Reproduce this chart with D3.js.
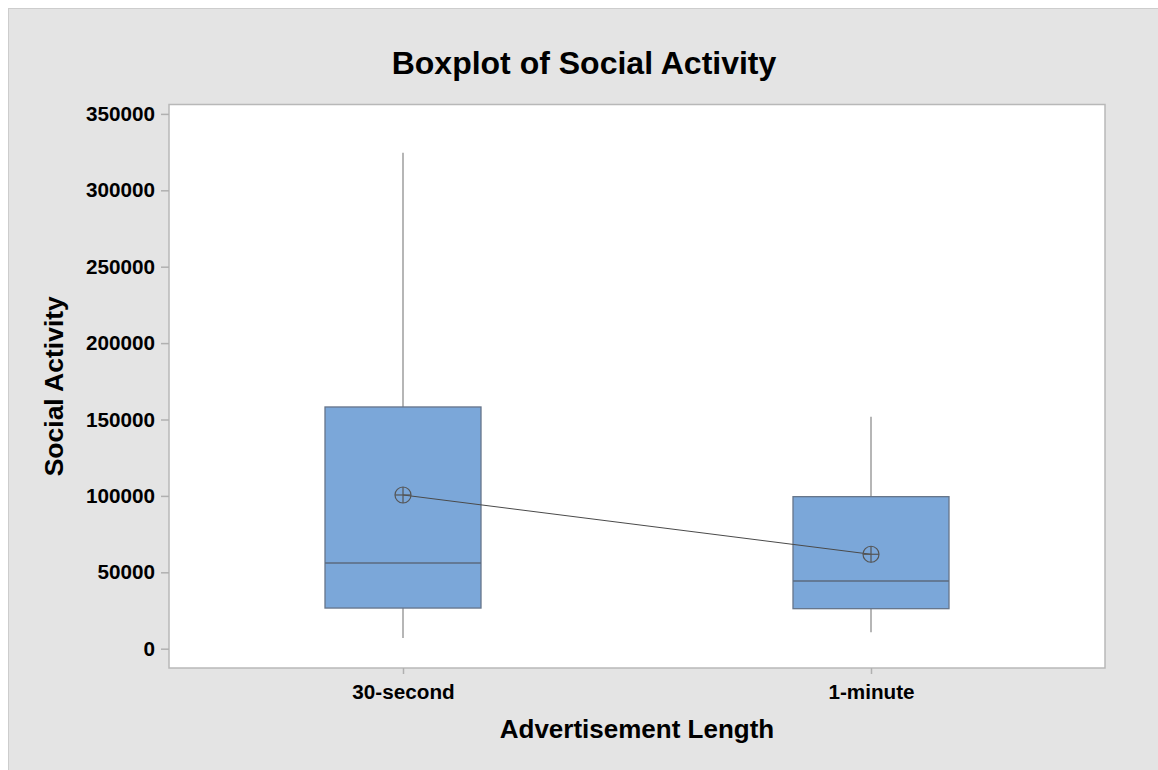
<!DOCTYPE html>
<html>
<head>
<meta charset="utf-8">
<title>Boxplot of Social Activity</title>
<script src="https://cdn.jsdelivr.net/npm/d3@7"></script>
<style>
  body { margin: 0; background: #ffffff; overflow: hidden; }
  svg { display: block; }
  text { font-family: "Liberation Sans", Arial, sans-serif; font-weight: bold; fill: #000; }
</style>
</head>
<body>
<script>
// categories and box statistics
var categories = ["30-second", "1-minute"];
var whiskerLow = [7000, 10700];
var q1 = [26600, 26200];
var medians = [56100, 44300];
var q3 = [158200, 99500];
var whiskerHigh = [324500, 151800];
var means = [100600, 61800];
var yTicks = [0, 50000, 100000, 150000, 200000, 250000, 300000, 350000];

var w = 1158, h = 770;
var plot = {left: 169, top: 104.5, right: 1105, bottom: 668};

var svg = d3.select("body").append("svg")
    .attr("width", w)
    .attr("height", h);

// grey figure background with light frame on top/left
svg.append("rect").attr("x", 0).attr("y", 0).attr("width", w).attr("height", h).attr("fill", "#ffffff");
svg.append("rect").attr("x", 8).attr("y", 8).attr("width", w - 8).attr("height", h - 8)
    .attr("fill", "#e4e4e4");
svg.append("line").attr("x1", 8).attr("x2", w).attr("y1", 8.5).attr("y2", 8.5).attr("stroke", "#cdcdcd");
svg.append("line").attr("x1", 8.5).attr("x2", 8.5).attr("y1", 8).attr("y2", h).attr("stroke", "#cdcdcd");

// plot area
svg.append("rect")
    .attr("x", plot.left).attr("y", plot.top)
    .attr("width", plot.right - plot.left).attr("height", plot.bottom - plot.top)
    .attr("fill", "#ffffff").attr("stroke", "#b8b8b8").attr("stroke-width", 1.5);

var x = d3.scalePoint().domain(categories).range([plot.left, plot.right]).padding(0.5);
var y = d3.scaleLinear().domain([0, 50000]).range([648.7, 572.3]);

// axes
var yAxis = svg.append("g").attr("transform", "translate(" + plot.left + ",0)")
    .call(d3.axisLeft(y).tickValues(yTicks).tickFormat(d3.format("d")).tickSize(8).tickPadding(6));
var xAxis = svg.append("g").attr("transform", "translate(0," + plot.bottom + ")")
    .call(d3.axisBottom(x).tickSize(6).tickPadding(10));
[yAxis, xAxis].forEach(function(a) {
  a.select(".domain").remove();
  a.selectAll(".tick line").attr("stroke", "#b0b0b0").attr("stroke-width", 1.5);
  a.selectAll(".tick text").attr("font-size", "20.7px").attr("font-family", "Liberation Sans, Arial, sans-serif")
    .attr("font-weight", "bold").attr("fill", "#000");
});

// boxes
var halfW = 78;
var boxes = svg.append("g");
categories.forEach(function(c, i) {
  var cx = x(c);
  // whiskers
  boxes.append("line").attr("x1", cx).attr("x2", cx)
      .attr("y1", y(whiskerHigh[i])).attr("y2", y(q3[i]))
      .attr("stroke", "#8f8f8f").attr("stroke-width", 1.3);
  boxes.append("line").attr("x1", cx).attr("x2", cx)
      .attr("y1", y(q1[i])).attr("y2", y(whiskerLow[i]))
      .attr("stroke", "#8f8f8f").attr("stroke-width", 1.3);
  // box
  boxes.append("rect")
      .attr("x", cx - halfW).attr("y", y(q3[i]))
      .attr("width", halfW * 2).attr("height", y(q1[i]) - y(q3[i]))
      .attr("fill", "#7ba7d9").attr("stroke", "#66758a").attr("stroke-width", 1.3);
  // median
  boxes.append("line").attr("x1", cx - halfW).attr("x2", cx + halfW)
      .attr("y1", y(medians[i])).attr("y2", y(medians[i]))
      .attr("stroke", "#5b6a7e").attr("stroke-width", 1.3);
});

// mean connect line
svg.append("path")
    .datum(categories.map(function(c, i) { return [x(c), y(means[i])]; }))
    .attr("d", d3.line())
    .attr("fill", "none").attr("stroke", "#4a4a4a").attr("stroke-width", 1);

// mean symbols (circle with cross)
categories.forEach(function(c, i) {
  var cx = x(c), cy = y(means[i]), r = 8;
  var g = svg.append("g").attr("stroke", "#555").attr("stroke-width", 1.2).attr("fill", "none");
  g.append("circle").attr("cx", cx).attr("cy", cy).attr("r", r);
  g.append("line").attr("x1", cx - r).attr("x2", cx + r).attr("y1", cy).attr("y2", cy);
  g.append("line").attr("x1", cx).attr("x2", cx).attr("y1", cy - r).attr("y2", cy + r);
});

// titles
svg.append("text").attr("x", 584).attr("y", 74).attr("text-anchor", "middle")
    .attr("font-size", "32px").text("Boxplot of Social Activity");
svg.append("text").attr("x", (plot.left + plot.right) / 2).attr("y", 738).attr("text-anchor", "middle")
    .attr("font-size", "26px").text("Advertisement Length");
svg.append("text").attr("transform", "translate(63," + ((plot.top + plot.bottom) / 2) + ") rotate(-90)")
    .attr("text-anchor", "middle").attr("font-size", "26.5px").text("Social Activity");
</script>
</body>
</html>
